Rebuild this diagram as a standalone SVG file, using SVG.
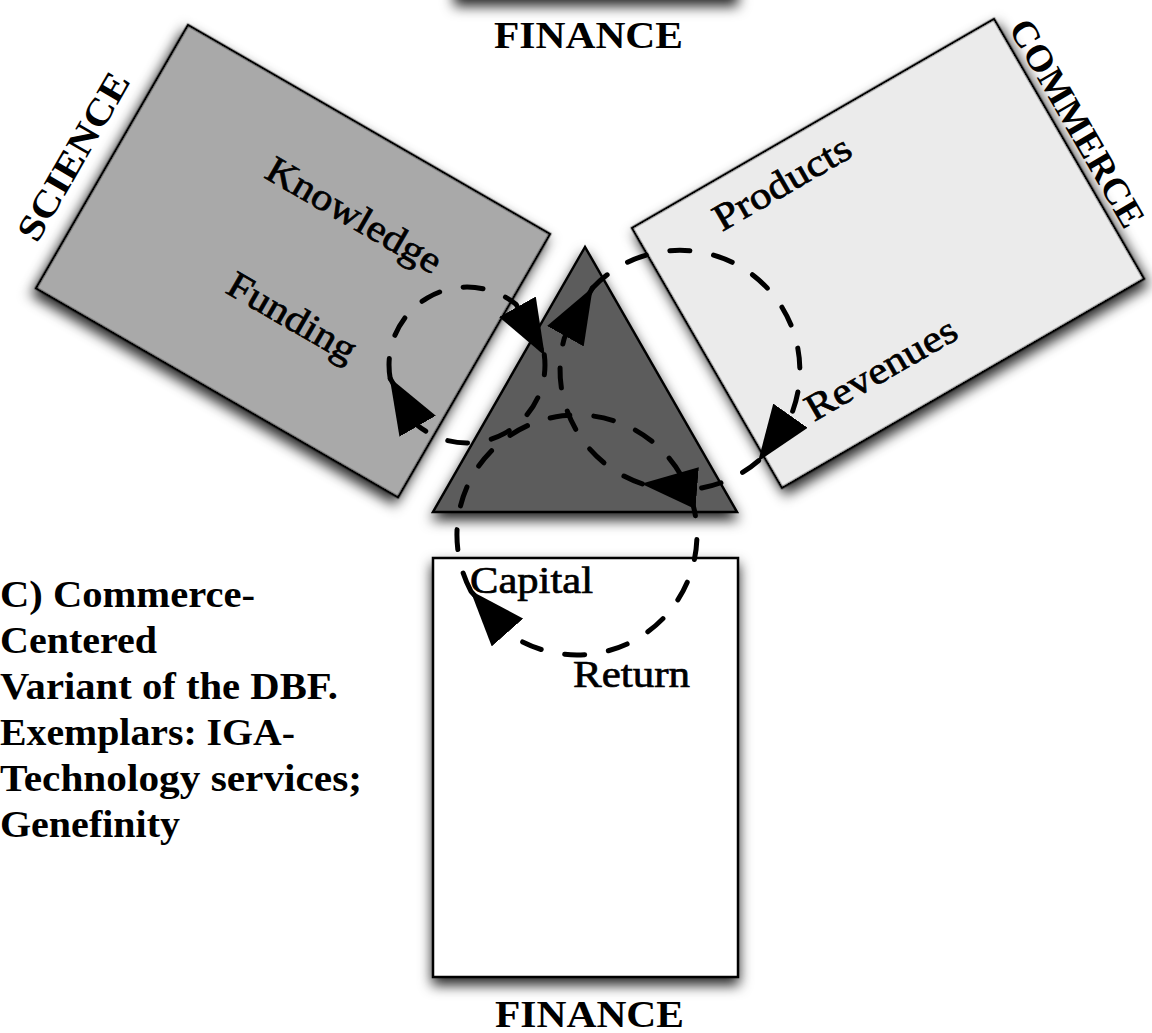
<svg xmlns="http://www.w3.org/2000/svg" width="1152" height="1033" viewBox="0 0 1152 1033">
  <defs>
    <filter id="shadow" x="-20%" y="-20%" width="140%" height="140%">
      <feDropShadow dx="0" dy="7" stdDeviation="6.5" flood-color="#000" flood-opacity="0.85"/>
    </filter>
    <marker id="head" markerUnits="userSpaceOnUse" viewBox="0 0 56 42" markerWidth="56" markerHeight="42" refX="55" refY="21" orient="auto">
      <path d="M0,0 L56,21 L0,42 z" fill="#000"/>
    </marker>
    <style>
      .box { stroke: #000; stroke-width: 2.5; filter: url(#shadow); }
      .title { font-family: "Liberation Serif", "Times New Roman", serif; font-weight: bold; font-size: 37px; fill: #000; }
      .lab { font-family: "Liberation Serif", "Times New Roman", serif; font-size: 38px; fill: #000; stroke: #000; stroke-width: 0.7; }
      .cap { font-family: "Liberation Serif", "Times New Roman", serif; font-weight: bold; font-size: 37px; fill: #000; }
      .flow { fill: none; stroke: #000; stroke-width: 5; stroke-dasharray: 20 24; stroke-linecap: round; marker-end: url(#head); }
    </style>
  </defs>

  <rect width="1152" height="1033" fill="#fff"/>

  <!-- upper finance block, mostly above the frame -->
  <g id="finance-top">
    <rect class="box" x="455" y="-300" width="282" height="298" fill="#fff"/>
    <text class="title" x="494" y="48" textLength="189" lengthAdjust="spacingAndGlyphs">FINANCE</text>
  </g>

  <!-- science block -->
  <g id="science">
    <rect class="box" x="0" y="0" width="418" height="304" fill="#a9a9a9" transform="translate(188,25) rotate(30)"/>
    <text class="title" transform="translate(37,244) rotate(-60)" textLength="188" lengthAdjust="spacingAndGlyphs">SCIENCE</text>
    <text class="lab" transform="translate(263,177) rotate(30)" textLength="196" lengthAdjust="spacingAndGlyphs">Knowledge</text>
    <text class="lab" transform="translate(224,292) rotate(30)" textLength="143" lengthAdjust="spacingAndGlyphs">Funding</text>
  </g>

  <!-- commerce block -->
  <g id="commerce">
    <rect class="box" x="0" y="0" width="418" height="300" fill="#ebebeb" transform="translate(632,228) rotate(-30)"/>
    <text class="title" transform="translate(1008,28) rotate(60)" textLength="234" lengthAdjust="spacingAndGlyphs">COMMERCE</text>
    <text class="lab" transform="translate(722,232) rotate(-30)" textLength="153" lengthAdjust="spacingAndGlyphs">Products</text>
    <text class="lab" transform="translate(814,422) rotate(-30)" textLength="169" lengthAdjust="spacingAndGlyphs">Revenues</text>
  </g>

  <!-- lower finance block -->
  <g id="finance">
    <rect class="box" x="433" y="558" width="305" height="419" fill="#fff"/>
    <text class="title" x="495" y="1027" textLength="189" lengthAdjust="spacingAndGlyphs">FINANCE</text>
    <text class="lab" x="470" y="593" textLength="123" lengthAdjust="spacingAndGlyphs">Capital</text>
    <text class="lab" x="573" y="687" textLength="117" lengthAdjust="spacingAndGlyphs">Return</text>
  </g>

  <!-- central hub -->
  <g id="hub">
    <polygon class="box" points="585,247 433,512 737,512" fill="#5b5b5b"/>
  </g>

  <!-- dashed exchange loops -->
  <g id="connectors">
    <!-- science loop -->
    <path class="flow" d="M544.3,354.8 A78,78 0 0,1 416.9,424.8 L390.2,378.5"/>
    <path class="flow" d="M390.2,378.5 A78,78 0 0,1 516.1,304.4 L544.3,354.8"/>
    <!-- commerce loop -->
    <path class="flow" d="M592.3,288.2 A120,120 0 0,1 791.6,414.0 L758.7,460.6"/>
    <path class="flow" d="M758.7,460.6 A120,120 0 0,1 699.2,488.4 L642.3,483.9"/>
    <path class="flow" d="M642.3,483.9 A120,120 0 0,1 564.4,337.9 L592.3,288.2"/>
    <!-- finance loop -->
    <path class="flow" d="M471.0,591.3 A120,120 0 1,1 508.2,633.3 L471.0,591.3"/>
  </g>

  <!-- caption -->
  <g id="caption">
    <text class="cap" x="0" y="607" textLength="255" lengthAdjust="spacingAndGlyphs">C) Commerce-</text>
    <text class="cap" x="0" y="653" textLength="157" lengthAdjust="spacingAndGlyphs">Centered</text>
    <text class="cap" x="0" y="699" textLength="338" lengthAdjust="spacingAndGlyphs">Variant of the DBF.</text>
    <text class="cap" x="0" y="745" textLength="295" lengthAdjust="spacingAndGlyphs">Exemplars: IGA-</text>
    <text class="cap" x="0" y="791" textLength="362" lengthAdjust="spacingAndGlyphs">Technology services;</text>
    <text class="cap" x="0" y="837" textLength="180" lengthAdjust="spacingAndGlyphs">Genefinity</text>
  </g>
</svg>
